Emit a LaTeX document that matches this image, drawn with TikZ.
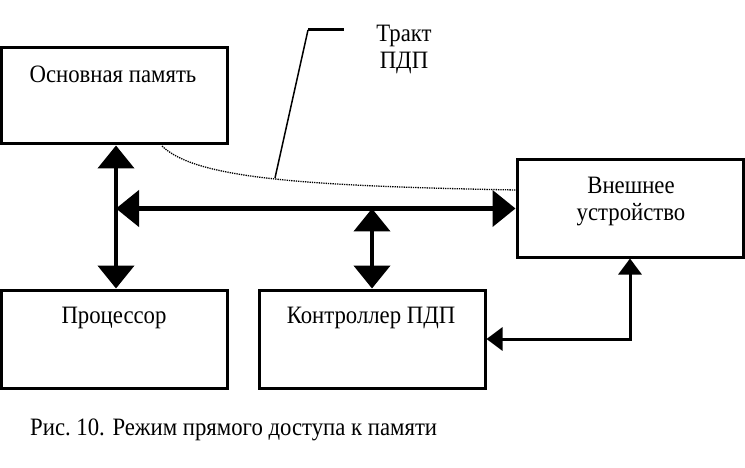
\documentclass[tikz,border=0pt]{standalone}
\usepackage{fontspec}
\setmainfont{Liberation Serif}[FakeStretch=0.91]
\usetikzlibrary{arrows.meta}
\begin{document}
\begin{tikzpicture}[x=1pt,y=-1pt,
  box/.style={draw,line width=3pt,inner sep=0pt},
  lbl/.style={inner sep=0pt,font=\fontsize{25}{27}\selectfont,align=center},
  bigarrow/.style={line width=4.5pt,{Triangle[length=23pt,width=36pt]}-{Triangle[length=23pt,width=36pt]}},
  smallarrow/.style={line width=3pt,{Triangle[length=16pt,width=23pt]}-{Triangle[length=16pt,width=23pt]}}]
\useasboundingbox (0,0) rectangle (745,468);
\fill[white] (0,0) rectangle (745,468);
% boxes
\node[box,minimum width=225.5pt,minimum height=96.5pt] (mem) at (114.25,95.75) {};
\node[box,minimum width=226pt,minimum height=97pt] (ext) at (630,208.5) {};
\node[box,minimum width=225.5pt,minimum height=98pt] (cpu) at (114.25,339) {};
\node[box,minimum width=226pt,minimum height=98pt] (dma) at (372,339) {};
% labels
\node[lbl] (memt) at (113,74) {Основная память};
\node[lbl] (extt) at (631,202) {Внешнее\\устройство};
\node[lbl] (cput) at (114,318) {Процессор};
\node[lbl] (dmat) at (371,318) {Контроллер ПДП};
\node[lbl] (trakt) at (404,49) {Тракт\\ПДП};
\node[lbl,anchor=west] (cap) at (30,430) {Рис.\ 10. Режим прямого доступа к памяти};
% connectors
\coordinate (busL) at (116,208.5);
\draw[bigarrow] ([xshift=1.75pt]mem.south) -- ([xshift=1.75pt]cpu.north);
\draw[bigarrow] (busL) -- (ext.west);
\draw[bigarrow] (dma.north |- ext.west) -- (dma.north);
\draw[smallarrow] (ext.south) |- (dma.east);
% DMA path
\coordinate (cs) at (162,146);
\coordinate (ce) at (516,190);
\draw[densely dotted,line width=1.3pt] (cs) .. controls (195,178) and (300,186) .. (ce);
\coordinate (l1) at (308,30);
\coordinate (l2) at (344,30);
\coordinate (l3) at (275,178);
\draw[line width=3pt] (l1) -- (l2);
\draw[line width=1.5pt] (l1) -- (l3);
\end{tikzpicture}
\end{document}
